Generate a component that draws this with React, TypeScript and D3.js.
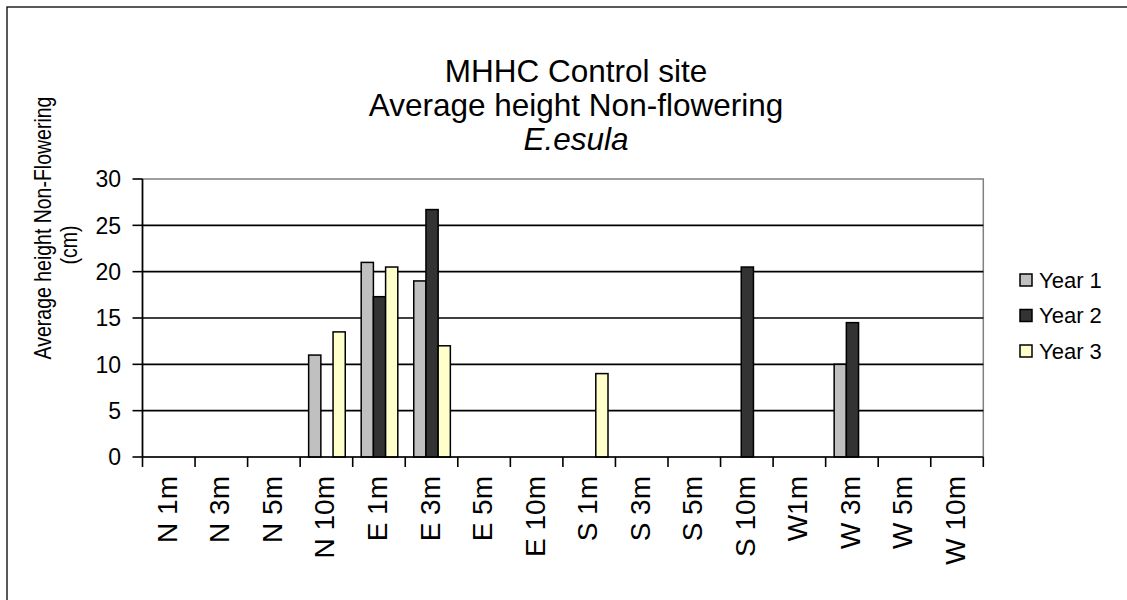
import React from "react";
import * as d3 from "d3";

const categories = ["N 1m","N 3m","N 5m","N 10m","E 1m","E 3m","E 5m","E 10m","S 1m","S 3m","S 5m","S 10m","W1m","W 3m","W 5m","W 10m"];
const seriesNames = ["Year 1", "Year 2", "Year 3"];
const year1: (number | null)[] = [null,null,null,11,21,19,null,null,null,null,null,null,null,10,null,null];
const year2: (number | null)[] = [null,null,null,null,17.3,26.7,null,null,null,null,null,20.5,null,14.5,null,null];
const year3: (number | null)[] = [null,null,null,13.5,20.5,12,null,null,9,null,null,null,null,null,null,null];
const yTicks = [0, 5, 10, 15, 20, 25, 30];
const titleLines = ["MHHC Control site", "Average height Non-flowering"];
const titleItalic = "E.esula";
const yTitle = ["Average height Non-Flowering", "(cm)"];

const colors = ["#C0C0C0", "#333333", "#FFFFCC"];
const FONT = "'Liberation Sans', Arial, Helvetica, sans-serif";

export default function App() {
  const W = 1127, H = 600;
  const left = 142.5, right = 983.3, top = 179, bottom = 457;
  const x0 = d3.scaleBand<string>().domain(categories).range([left, right]).padding(0);
  const bw = x0.bandwidth();
  const x1 = d3.scaleBand<string>().domain(seriesNames).range([8.5, 8.5 + 36.6]).padding(0);
  const y = d3.scaleLinear().domain([0, 30]).range([bottom, top]);
  const data = [year1, year2, year3];

  return (
    <svg width={W} height={H} style={{ position: "absolute", left: 0, top: 0, background: "#fff" }} fontFamily={FONT}>
      <rect x={0} y={0} width={W} height={H} fill="#fff" />
      <rect x={7} y={7} width={W + 20} height={H + 20} fill="none" stroke="#000" strokeWidth={1.3} />
      {/* title */}
      <g textAnchor="middle" fontSize={31.5} fill="#000">
        <text x={576} y={82}>{titleLines[0]}</text>
        <text x={576} y={116}>{titleLines[1]}</text>
        <text x={576} y={150} fontStyle="italic">{titleItalic}</text>
      </g>
      {/* plot area */}
      <rect x={left} y={top} width={right - left} height={bottom - top} fill="#fff" stroke="#808080" strokeWidth={1.5} />
      {yTicks.filter(t => t > 0 && t < 30).map(t => (
        <line key={t} x1={left} x2={right} y1={y(t)} y2={y(t)} stroke="#000" strokeWidth={1.6} />
      ))}
      {/* bars */}
      {data.map((series, si) => (
        <g key={si}>
          {series.map((v, ci) => v == null ? null : (
            <rect key={ci}
              x={(x0(categories[ci]) as number) + (x1(seriesNames[si]) as number)}
              y={y(v)} width={x1.bandwidth()} height={y(0) - y(v)}
              fill={colors[si]} stroke="#000" strokeWidth={1.5} />
          ))}
        </g>
      ))}
      {/* axes */}
      <line x1={left} x2={left} y1={top} y2={bottom + 0.75} stroke="#000" strokeWidth={1.6} />
      <line x1={left} x2={right} y1={bottom} y2={bottom} stroke="#000" strokeWidth={1.6} />
      {yTicks.map(t => (
        <g key={t}>
          <line x1={left - 10} x2={left} y1={y(t)} y2={y(t)} stroke="#000" strokeWidth={1.6} />
          <text x={121} y={y(t)} dy="0.36em" textAnchor="end" fontSize={23}>{t}</text>
        </g>
      ))}
      {categories.map((c, i) => (
        <line key={"t" + i} x1={left + i * bw} x2={left + i * bw} y1={bottom} y2={bottom + 10} stroke="#000" strokeWidth={1.6} />
      ))}
      <line x1={right} x2={right} y1={bottom} y2={bottom + 10} stroke="#000" strokeWidth={1.6} />
      {categories.map((c, i) => {
        const cx = (x0(c) as number) + bw / 2;
        return (
          <text key={c} transform={`translate(${cx + 8},${476}) rotate(-90)`} textAnchor="end" fontSize={28}>{c}</text>
        );
      })}
      {/* y title */}
      <text transform={`translate(${51},${228}) rotate(-90) scale(1,1.2)`} textAnchor="middle" fontSize={19.5}>{yTitle[0]}</text>
      <text transform={`translate(${77},${245}) rotate(-90) scale(1,1.2)`} textAnchor="middle" fontSize={19.5}>{yTitle[1]}</text>
      {/* legend */}
      {seriesNames.map((s, i) => (
        <g key={s} transform={`translate(1020,${280 + i * 35.5})`}>
          <rect x={0} y={-6} width={12} height={12} fill={colors[i]} stroke="#000" strokeWidth={1.5} />
          <text x={19} y={0} dy="0.36em" fontSize={22}>{s}</text>
        </g>
      ))}
    </svg>
  );
}
